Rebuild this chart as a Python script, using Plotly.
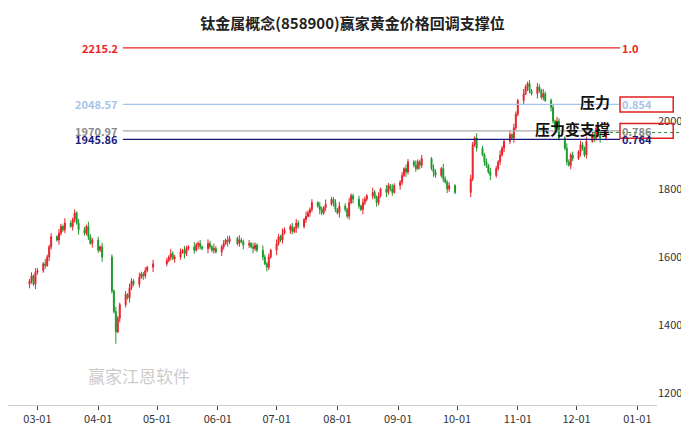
import pandas as pd
import plotly.graph_objects as go

title = "钛金属概念(858900)赢家黄金价格回调支撑位"
months = {
 "2024-02": [1530,1545,1520,1555],
 "2024-03": [1560,1580,1575,1600,1630,1660,1650,1670,1690,1680,1700,1690,1710,1730,1700,1680,1670,1690,1660,1640,1650],
 "2024-04": [1620,1630,1600,1500,1440,1380,1420,1460,1490,1480,1510,1530,1520,1540,1550,1545,1560,1570,1580],
 "2024-05": [1590,1600,1610,1595,1600,1615,1620,1610,1625,1630,1620,1635,1640,1630,1625,1640,1630,1620,1625,1615],
 "2024-06": [1630,1640,1650,1645,1655,1640,1650,1645,1635,1640,1630,1625,1635,1620,1600,1580,1570,1600,1620],
 "2024-07": [1640,1660,1650,1670,1680,1690,1675,1685,1700,1690,1710,1720,1730,1740,1760,1750,1740,1730,1745,1755,1770,1760,1740],
 "2024-08": [1730,1750,1740,1720,1760,1780,1770,1750,1740,1760,1770,1780,1790,1775,1760,1780,1800,1790,1810,1800,1790,1810],
 "2024-09": [1820,1840,1860,1850,1880,1870,1860,1880,1870,1890,1860,1850,1840,1860,1830,1820,1800,1810,1790],
 "2024-10": [1830,1930,1950,1920,1900,1880,1870,1850,1840,1860,1880,1900,1920,1940,1960,1950,1980,2020],
 "2024-11": [2060,2080,2100,2110,2090,2080,2100,2090,2070,2080,2060,2040,2000,1980,2000,1950,1920,1880,1870,1900,1890],
 "2024-12": [1910,1930,1920,1900,1940,1960,1950,1980,1960,1950,1966],
}
holidays = pd.to_datetime(["2024-04-04","2024-04-05","2024-05-01","2024-05-02","2024-05-03",
    "2024-06-10","2024-09-16","2024-09-17"] + [f"2024-10-0{i}" for i in range(1,8)])
starts = {"2024-02":"2024-02-26"}
dates, closes = [], []
for m, vals in months.items():
    s = starts.get(m, m + "-01")
    e = pd.Period(m).end_time.normalize()
    d = [x for x in pd.bdate_range(s, e) if x not in holidays]
    n = min(len(d), len(vals))
    dates += d[:n]; closes += vals[:n]

opens = [closes[0] - 10] + closes[:-1]
wick = [6, 10, 4, 12, 8, 5, 14, 7]
highs = [max(o, c) + wick[i % 8] for i, (o, c) in enumerate(zip(opens, closes))]
lows = [min(o, c) - wick[(i + 3) % 8] for i, (o, c) in enumerate(zip(opens, closes))]
lows[closes.index(1380)] = 1345

levels = [2215.2, 2048.57, 1970.97, 1945.86]
ratios = ["1.0", "0.854", "0.786", "0.764"]
lcolors = ["#ee2222", "#a8c4e8", "#aaaaaa", "#1a1a7a"]
last_price = 1966

fig = go.Figure(go.Candlestick(x=dates, open=opens, high=highs, low=lows, close=closes,
    increasing=dict(line=dict(color="#e8202a", width=1), fillcolor="#e8202a"),
    decreasing=dict(line=dict(color="#1a9a2a", width=1), fillcolor="#1a9a2a"),
    whiskerwidth=0, showlegend=False))

x0, x1 = "2024-02-15", "2025-01-11"
for v, r, c in zip(levels, ratios, lcolors):
    fc = c if c != "#aaaaaa" else "#888888"
    fig.add_shape(type="line", xref="paper", x0=0.177, x1=0.943, y0=v, y1=v, line=dict(color=c, width=1.3))
    fig.add_annotation(xref="paper", x=0.172, y=v, text=f"<b>{v}</b>", showarrow=False, xanchor="right",
                       font=dict(color=fc, size=11))
    fig.add_annotation(xref="paper", x=0.943, y=v, text=f"<b>{r}</b>", showarrow=False, xanchor="left",
                       font=dict(color=fc, size=11))
fig.add_shape(type="line", xref="paper", x0=0.9, x1=1.07, y0=last_price, y1=last_price,
              line=dict(color="#2a8a2a", width=1, dash="dot"))
for v, t in [(levels[1], "压力"), (levels[2], "压力变支撑")]:
    fig.add_shape(type="rect", xref="paper", x0=0.943, x1=1.025, y0=v - 22, y1=v + 22,
                  line=dict(color="#e02020", width=1.5))
    fig.add_annotation(xref="paper", x=0.93, y=v + 8, text=f"<b>{t}</b>", showarrow=False,
                       xanchor="right", font=dict(size=15, color="#111"))
fig.add_annotation(xref="paper", yref="paper", x=0.12, y=0.04, text="赢家江恩软件", showarrow=False,
                   xanchor="left", font=dict(size=17, color="rgba(150,150,150,0.5)"))

fig.update_layout(width=689, height=427, margin=dict(l=0, r=40, t=30, b=30),
    paper_bgcolor="white", plot_bgcolor="white",
    title=dict(text=f"<b>{title}</b>", x=0.5, y=0.975, font=dict(size=15, color="#222")),
    font=dict(family="Noto Sans CJK SC"),
    xaxis=dict(range=[x0, x1], rangeslider=dict(visible=False), tickformat="%m-%d",
               tickvals=pd.date_range("2024-03-01", "2025-01-01", freq="MS"),
               showgrid=False, ticks="outside", ticklen=4, showline=True, linecolor="#ccc",
               tickfont=dict(size=11, color="#333")),
    yaxis=dict(range=[1165, 2244], side="right", tickvals=[1200,1400,1600,1800,2000],
               showgrid=False, zeroline=False, tickfont=dict(size=11, color="#333")))
fig.write_html("out.html")
